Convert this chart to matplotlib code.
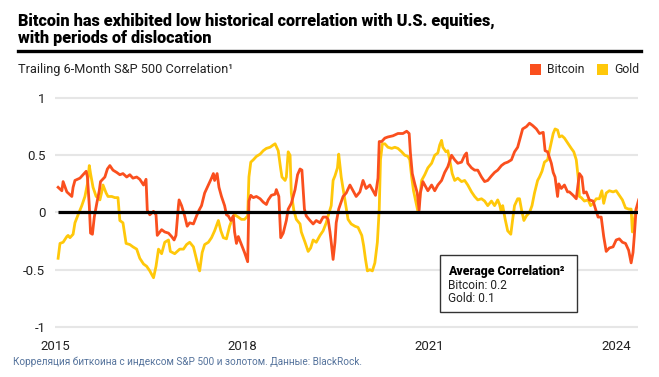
import matplotlib.pyplot as plt
from matplotlib.patches import Rectangle
from matplotlib.lines import Line2D

plt.rcParams['font.family'] = ['Roboto', 'DejaVu Sans']

# values (decimal year, correlation)
btc_years = [
    2015.05, 2015.11, 2015.13, 2015.19, 2015.27, 2015.29, 2015.32, 2015.40, 2015.45, 2015.50,
    2015.52, 2015.55, 2015.57, 2015.60, 2015.63, 2015.67, 2015.71, 2015.73, 2015.80, 2015.84,
    2015.88, 2015.93, 2015.99, 2016.04, 2016.09, 2016.15, 2016.20, 2016.25, 2016.31, 2016.36,
    2016.42, 2016.46, 2016.48, 2016.52, 2016.58, 2016.62, 2016.64, 2016.71, 2016.76, 2016.82,
    2016.87, 2016.91, 2016.94, 2016.98, 2016.99, 2017.03, 2017.08, 2017.12, 2017.16, 2017.22,
    2017.27, 2017.31, 2017.35, 2017.40, 2017.46, 2017.51, 2017.54, 2017.56, 2017.60, 2017.63,
    2017.67, 2017.72, 2017.75, 2017.78, 2017.82, 2017.86, 2017.88, 2017.91, 2017.94, 2017.99,
    2018.04, 2018.09, 2018.11, 2018.14, 2018.18, 2018.23, 2018.29, 2018.34, 2018.39, 2018.42,
    2018.47, 2018.53, 2018.55, 2018.59, 2018.62, 2018.66, 2018.71, 2018.74, 2018.79, 2018.85,
    2018.89, 2018.93, 2018.96, 2019.00, 2019.03, 2019.09, 2019.14, 2019.19, 2019.25, 2019.30,
    2019.35, 2019.38, 2019.41, 2019.43, 2019.46, 2019.49, 2019.51, 2019.55, 2019.62, 2019.67,
    2019.73, 2019.78, 2019.83, 2019.89, 2019.94, 2019.99, 2020.05, 2020.10, 2020.14, 2020.18,
    2020.20, 2020.24, 2020.29, 2020.34, 2020.42, 2020.50, 2020.58, 2020.64, 2020.68, 2020.70,
    2020.73, 2020.77, 2020.81, 2020.84, 2020.86, 2020.90, 2020.95, 2020.98, 2021.04, 2021.09,
    2021.14, 2021.20, 2021.25, 2021.30, 2021.36, 2021.41, 2021.46, 2021.52, 2021.57, 2021.60,
    2021.62, 2021.68, 2021.73, 2021.78, 2021.84, 2021.89, 2021.94, 2022.00, 2022.05, 2022.10,
    2022.16, 2022.21, 2022.26, 2022.32, 2022.37, 2022.42, 2022.47, 2022.50, 2022.56, 2022.61,
    2022.66, 2022.72, 2022.77, 2022.83, 2022.86, 2022.90, 2022.96, 2022.99, 2023.02, 2023.06,
    2023.08, 2023.12, 2023.17, 2023.22, 2023.25, 2023.31, 2023.36, 2023.41, 2023.45, 2023.48,
    2023.52, 2023.57, 2023.63, 2023.68, 2023.71, 2023.76, 2023.80, 2023.84, 2023.89, 2023.95,
    2024.00, 2024.05, 2024.10, 2024.15, 2024.20, 2024.24, 2024.27, 2024.29, 2024.32, 2024.36,
]
btc_corr = [
    0.22, 0.19, 0.27, 0.18, 0.14, 0.22, 0.28, 0.30, 0.33, 0.36,
    0.31, 0.06, -0.18, -0.19, -0.04, 0.08, 0.19, 0.27, 0.31, 0.38,
    0.41, 0.37, 0.35, 0.33, 0.34, 0.31, 0.33, 0.30, 0.31, 0.29,
    0.24, 0.29, 0.02, -0.02, 0.01, -0.02, -0.20, -0.15, -0.17, -0.18,
    -0.21, -0.24, -0.20, 0.06, 0.11, 0.06, -0.03, -0.12, -0.09, -0.10,
    -0.03, 0.02, 0.06, 0.17, 0.24, 0.30, 0.34, 0.28, 0.34, 0.22,
    0.14, 0.06, -0.02, -0.03, -0.07, -0.03, -0.17, -0.27, -0.21, -0.28,
    -0.35, -0.43, 0.10, 0.15, 0.13, 0.14, 0.12, 0.09, 0.07, 0.11,
    0.15, 0.16, 0.20, 0.14, -0.22, -0.18, -0.07, 0.03, 0.08, 0.20,
    0.33, 0.38, 0.37, 0.03, -0.03, -0.07, -0.10, -0.07, -0.09, -0.04,
    -0.04, -0.06, -0.17, -0.26, -0.41, -0.26, -0.09, 0.03, 0.14, 0.17,
    0.24, 0.19, 0.14, 0.18, 0.28, 0.21, 0.24, 0.19, 0.15, 0.30,
    0.62, 0.62, 0.65, 0.66, 0.67, 0.69, 0.69, 0.71, 0.69, 0.52,
    0.34, 0.25, 0.17, 0.02, 0.17, 0.27, 0.22, 0.19, 0.24, 0.19,
    0.24, 0.28, 0.35, 0.40, 0.50, 0.46, 0.43, 0.44, 0.50, 0.52,
    0.43, 0.39, 0.37, 0.37, 0.31, 0.27, 0.28, 0.32, 0.35, 0.37,
    0.41, 0.43, 0.44, 0.46, 0.53, 0.57, 0.67, 0.73, 0.75, 0.78,
    0.76, 0.73, 0.69, 0.70, 0.54, 0.53, 0.43, 0.35, 0.31, 0.14,
    0.25, 0.21, 0.24, 0.18, 0.18, 0.15, 0.12, 0.34, 0.31, 0.17,
    0.18, 0.11, 0.10, 0.01, -0.04, -0.04, -0.21, -0.34, -0.31, -0.30,
    -0.24, -0.23, -0.26, -0.27, -0.33, -0.44, -0.35, -0.21, 0.03, 0.11,
]

gold_years = [
    2015.05, 2015.08, 2015.13, 2015.19, 2015.21, 2015.24, 2015.29, 2015.32, 2015.37, 2015.43,
    2015.48, 2015.52, 2015.55, 2015.57, 2015.61, 2015.66, 2015.69, 2015.72, 2015.75, 2015.77,
    2015.82, 2015.85, 2015.91, 2015.96, 2016.01, 2016.04, 2016.09, 2016.14, 2016.20, 2016.25,
    2016.31, 2016.36, 2016.42, 2016.47, 2016.52, 2016.58, 2016.62, 2016.66, 2016.71, 2016.76,
    2016.82, 2016.85, 2016.92, 2017.00, 2017.06, 2017.11, 2017.16, 2017.22, 2017.27, 2017.31,
    2017.32, 2017.36, 2017.40, 2017.46, 2017.51, 2017.56, 2017.62, 2017.66, 2017.70, 2017.75,
    2017.80, 2017.86, 2017.88, 2017.94, 2017.99, 2018.04, 2018.09, 2018.11, 2018.14, 2018.18,
    2018.23, 2018.29, 2018.34, 2018.39, 2018.45, 2018.50, 2018.53, 2018.58, 2018.62, 2018.64,
    2018.69, 2018.71, 2018.74, 2018.77, 2018.79, 2018.83, 2018.87, 2018.93, 2018.95, 2019.01,
    2019.06, 2019.10, 2019.14, 2019.19, 2019.25, 2019.30, 2019.35, 2019.38, 2019.43, 2019.46,
    2019.49, 2019.53, 2019.55, 2019.59, 2019.65, 2019.70, 2019.75, 2019.81, 2019.86, 2019.92,
    2019.95, 2019.98, 2020.01, 2020.05, 2020.09, 2020.13, 2020.17, 2020.20, 2020.22, 2020.25,
    2020.29, 2020.34, 2020.40, 2020.45, 2020.50, 2020.56, 2020.61, 2020.66, 2020.69, 2020.72,
    2020.75, 2020.80, 2020.82, 2020.85, 2020.88, 2020.93, 2020.98, 2021.04, 2021.09, 2021.14,
    2021.17, 2021.20, 2021.22, 2021.27, 2021.30, 2021.33, 2021.37, 2021.41, 2021.46, 2021.52,
    2021.57, 2021.62, 2021.68, 2021.73, 2021.78, 2021.84, 2021.89, 2021.94, 2022.00, 2022.05,
    2022.10, 2022.13, 2022.16, 2022.18, 2022.22, 2022.26, 2022.31, 2022.34, 2022.37, 2022.42,
    2022.45, 2022.48, 2022.52, 2022.56, 2022.61, 2022.65, 2022.69, 2022.74, 2022.77, 2022.81,
    2022.85, 2022.90, 2022.93, 2022.99, 2023.02, 2023.06, 2023.09, 2023.13, 2023.17, 2023.23,
    2023.28, 2023.32, 2023.36, 2023.39, 2023.41, 2023.44, 2023.49, 2023.55, 2023.59, 2023.63,
    2023.68, 2023.73, 2023.77, 2023.80, 2023.84, 2023.89, 2023.95, 2024.00, 2024.05, 2024.10,
    2024.15, 2024.20, 2024.24, 2024.26, 2024.29, 2024.32,
]
gold_corr = [
    -0.40, -0.27, -0.26, -0.21, -0.20, -0.22, -0.19, -0.09, -0.02, 0.06,
    0.14, 0.25, 0.41, 0.34, 0.22, 0.14, 0.13, 0.11, 0.18, 0.24,
    0.17, 0.14, 0.14, 0.13, 0.13, -0.07, -0.09, -0.27, -0.28, -0.30,
    -0.32, -0.40, -0.45, -0.47, -0.51, -0.57, -0.47, -0.32, -0.36, -0.26,
    -0.24, -0.34, -0.36, -0.32, -0.32, -0.28, -0.26, -0.30, -0.41, -0.50,
    -0.51, -0.35, -0.28, -0.26, -0.22, -0.16, -0.07, -0.16, -0.22, -0.23,
    -0.12, -0.03, -0.02, -0.04, -0.06, -0.06, -0.03, 0.31, 0.44, 0.46,
    0.49, 0.51, 0.54, 0.56, 0.57, 0.59, 0.60, 0.54, 0.38, 0.31,
    0.28, 0.31, 0.53, 0.50, 0.17, 0.02, -0.06, -0.10, -0.17, -0.26,
    -0.34, -0.31, -0.24, -0.26, -0.20, -0.16, -0.09, -0.03, 0.06, 0.28,
    0.32, 0.39, 0.51, 0.31, 0.11, -0.06, -0.10, -0.12, -0.13, -0.20,
    -0.29, -0.41, -0.51, -0.50, -0.51, -0.44, -0.26, 0.03, 0.46, 0.60,
    0.60, 0.57, 0.56, 0.57, 0.56, 0.53, 0.50, 0.49, 0.46, 0.31,
    0.19, 0.06, 0.01, 0.13, 0.28, 0.33, 0.39, 0.43, 0.50, 0.52,
    0.59, 0.63, 0.57, 0.53, 0.54, 0.46, 0.34, 0.28, 0.30, 0.27,
    0.28, 0.24, 0.18, 0.14, 0.11, 0.12, 0.10, 0.06, 0.10, 0.06,
    0.11, 0.07, 0.00, 0.06, -0.06, -0.16, -0.19, -0.06, 0.06, 0.12,
    0.12, 0.03, -0.07, -0.03, 0.00, 0.06, 0.17, 0.28, 0.31, 0.36,
    0.44, 0.46, 0.54, 0.69, 0.73, 0.72, 0.66, 0.67, 0.65, 0.60,
    0.56, 0.53, 0.46, 0.31, 0.14, 0.13, 0.10, 0.11, 0.06, 0.08,
    0.12, 0.12, 0.19, 0.08, 0.17, 0.19, 0.18, 0.19, 0.15, 0.11,
    0.04, 0.03, 0.03, -0.17, -0.06, 0.03,
]

year_ticks = [2015, 2018, 2021, 2024]
corr_ticks = [-1, -0.5, 0, 0.5, 1]
corr_labels = ['-1', '-0.5', '0', '0.5', '1']

btc_color = '#FA4F1E'
gold_color = '#FFC80A'

W, H = 659, 377
fig = plt.figure(figsize=(W / 100, H / 100), dpi=100)

def fx(px):
    return px / W

def fy(py):
    return 1 - py / H

ax = fig.add_axes([fx(55), fy(332.7), fx(583), (332.7 - 92.3) / H])
ax.set_xlim(2015, 2024.35)
ax.set_ylim(-1.05, 1.05)
for s in ax.spines.values():
    s.set_visible(False)
ax.set_yticks(corr_ticks)
ax.set_yticklabels(corr_labels)
ax.set_xticks(year_ticks)
ax.set_xticklabels([str(y) for y in year_ticks])
ax.tick_params(axis='both', length=0, labelsize=9.5, colors='#222222')
ax.tick_params(axis='y', pad=7)
ax.tick_params(axis='x', pad=5)
ax.grid(axis='y', color='#e6e6e6', linewidth=1.5)
ax.set_axisbelow(True)

ax.plot(gold_years, gold_corr, color=gold_color, linewidth=2.0, zorder=3)
ax.plot(btc_years, btc_corr, color=btc_color, linewidth=2.0, zorder=4)
ax.hlines(0, btc_years[0], btc_years[-1], color='black', linewidth=2.3, zorder=5)

# title block
fig.text(fx(18), fy(26), 'Bitcoin has exhibited low historical correlation with U.S. equities,',
         fontsize=11.7, fontweight='black', va='baseline', color='black')
fig.text(fx(18), fy(43), 'with periods of dislocation',
         fontsize=11.7, fontweight='black', va='baseline', color='black')
fig.add_artist(Line2D([fx(18), fx(641)], [fy(51), fy(51)], color='black', linewidth=2.4))
fig.text(fx(18), fy(72.7), 'Trailing 6-Month S&P 500 Correlation\u00b9',
         fontsize=9.2, va='baseline', color='#222222')

# legend
for x0, label, col in [(529.5, 'Bitcoin', btc_color), (597, 'Gold', gold_color)]:
    fig.add_artist(Rectangle((fx(x0), fy(75)), 11 / W, 11 / H, transform=fig.transFigure,
                             facecolor=col, edgecolor='none'))
    fig.text(fx(x0 + 17), fy(72.7), label, fontsize=8.8, va='baseline', color='#222222')

# average correlation box
fig.add_artist(Rectangle((fx(439.5), fy(312)), 137.5 / W, 57 / H, transform=fig.transFigure,
                         facecolor='white', edgecolor='#333333', linewidth=1.0, zorder=10))
fig.text(fx(448), fy(275.5), 'Average Correlation\u00b2', fontsize=8.8, fontweight='black',
         va='baseline', color='black', zorder=11)
fig.text(fx(448), fy(289), 'Bitcoin: 0.2', fontsize=8.6, va='baseline', color='#222222', zorder=11)
fig.text(fx(448), fy(302.5), 'Gold: 0.1', fontsize=8.6, va='baseline', color='#222222', zorder=11)

# caption
fig.text(fx(13), fy(365), 'Корреляция биткоина с индексом S&P 500 и золотом. Данные: BlackRock.',
         fontsize=7.2, va='baseline', color='#55739c')

fig.savefig('out.png', dpi=100)
